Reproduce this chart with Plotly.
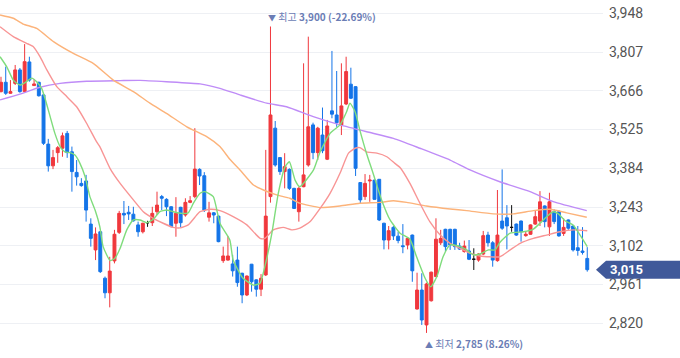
import plotly.graph_objects as go

# ---------------- data ----------------
opens = [3663, 3697, 3657, 3693, 3742, 3663, 3771, 3685, 3697, 3651,
         3472, 3393, 3441, 3457, 3511, 3444, 3369, 3329, 3338, 3181,
         3087, 3153, 2984, 2931, 3047, 3151, 3220, 3224, 3217, 3178,
         3153, 3186, 3186, 3226, 3281, 3271, 3244, 3184, 3242, 3214,
         3260, 3281, 3380, 3357, 3206, 3222, 3210, 3048, 3050, 3036,
         3050, 3002, 2923, 3035, 2978, 2944, 2996, 3281, 3530, 3423,
         3372, 3380, 3311, 3226, 3317, 3396, 3542, 3441, 3505, 3417,
         3593, 3578, 3542, 3618, 3690, 3681, 3332, 3281, 3338, 3341,
         3344, 3184, 3123, 3169, 3137, 3102, 3105, 3141, 2872, 2941,
         2814, 2902, 2990, 3113, 3162, 3162, 3162, 3101, 3081, 3083,
         3053, 3050, 3072, 3141, 3113, 3048, 3192, 3204, 3169, 3181,
         3192, 3139, 3144, 3181, 3192, 3247, 3171, 3226, 3226, 3147,
         3196, 3174, 3095, 3083, 3056]
highs = [3717, 3754, 3705, 3760, 3749, 3836, 3790, 3709, 3699, 3654,
         3491, 3451, 3465, 3514, 3520, 3463, 3414, 3348, 3360, 3202,
         3169, 3155, 2990, 3062, 3160, 3229, 3265, 3247, 3244, 3190,
         3186, 3193, 3244, 3299, 3287, 3275, 3246, 3279, 3244, 3275,
         3283, 3530, 3384, 3370, 3262, 3225, 3212, 3099, 3138, 3069,
         3099, 3004, 2994, 3036, 2980, 2999, 3451, 3900, 3556, 3425,
         3439, 3384, 3313, 3317, 3766, 3863, 3550, 3535, 3605, 3560,
         3811, 3738, 3766, 3790, 3750, 3683, 3333, 3363, 3360, 3343,
         3345, 3186, 3174, 3174, 3153, 3181, 3133, 3143, 3004, 3002,
         2968, 3008, 3202, 3160, 3164, 3164, 3164, 3113, 3121, 3123,
         3093, 3075, 3156, 3153, 3119, 3305, 3380, 3250, 3250, 3183,
         3194, 3156, 3180, 3230, 3301, 3249, 3295, 3235, 3232, 3202,
         3198, 3176, 3174, 3170, 3097]
lows = [3660, 3651, 3655, 3687, 3659, 3659, 3699, 3684, 3645, 3469,
        3372, 3381, 3404, 3426, 3422, 3299, 3321, 3317, 3190, 3099,
        3050, 3003, 2911, 2878, 3038, 3145, 3181, 3196, 3190, 3135,
        3147, 3171, 3174, 3214, 3232, 3210, 3169, 3135, 3169, 3208,
        3257, 3275, 3323, 3225, 3190, 3184, 3115, 3040, 3048, 2990,
        2953, 2893, 2919, 2935, 2917, 2919, 2992, 3259, 3390, 3360,
        3311, 3305, 3236, 3190, 3315, 3390, 3417, 3414, 3439, 3414,
        3566, 3535, 3505, 3614, 3636, 3356, 3257, 3269, 3262, 3270,
        3192, 3089, 3089, 3123, 3111, 3075, 3089, 2971, 2870, 2814,
        2785, 2899, 2988, 3105, 3081, 3087, 3087, 3087, 3077, 3050,
        3014, 3044, 3068, 3099, 3026, 3044, 3160, 3089, 3153, 3138,
        3117, 3135, 3142, 3178, 3174, 3169, 3138, 3181, 3135, 3138,
        3160, 3081, 3066, 3070, 3008]
closes = [3697, 3657, 3663, 3742, 3663, 3772, 3705, 3691, 3648, 3475,
          3393, 3423, 3459, 3502, 3441, 3372, 3353, 3321, 3232, 3129,
          3145, 3008, 2931, 3010, 3144, 3220, 3214, 3218, 3193, 3153,
          3184, 3186, 3220, 3250, 3275, 3244, 3172, 3220, 3186, 3260,
          3266, 3381, 3356, 3232, 3222, 3214, 3117, 3065, 3065, 3011,
          2968, 2923, 2992, 2971, 2944, 2984, 3210, 3578, 3396, 3372,
          3390, 3311, 3238, 3311, 3360, 3535, 3441, 3530, 3448, 3538,
          3581, 3550, 3611, 3736, 3639, 3384, 3269, 3329, 3341, 3271,
          3196, 3123, 3157, 3138, 3121, 3099, 3129, 3011, 2941, 2832,
          2963, 3006, 3126, 3129, 3099, 3105, 3099, 3090, 3101, 3053,
          3053, 3072, 3139, 3113, 3050, 3141, 3166, 3174, 3169, 3141,
          3153, 3144, 3178, 3208, 3262, 3190, 3262, 3190, 3138, 3169,
          3166, 3087, 3085, 3078, 3015]
candle_idx = list(range(len(closes)))
flat_candles = [31, 100, 108]   # unchanged days drawn in black

# moving-average lines: (candle position, price)
ma5_x = [-0.2, 1.2, 2.6, 4.0, 5.1, 6.5, 7.55, 8.6, 9.3, 10.4, 11.4, 12.5, 13.5, 14.6, 15.65,
         16.7, 17.8, 18.8, 19.9, 20.9, 21.6, 23.1, 24.1, 25.2, 26.6, 28.0, 29.4, 30.8, 32.2,
         33.6, 35.0, 36.4, 38.2, 39.6, 40.7, 42.1, 43.1, 44.9, 46.3, 48.4, 49.1, 51.2, 53.4,
         54.8, 55.8, 57.3, 58.65, 60.1, 61.0, 62.2, 63.2, 66.1, 67.5, 69.6, 71.7, 73.1, 73.8,
         74.9, 75.9, 77.3, 78.7, 80.5, 82.3, 84.4, 86.5, 87.9, 89.7, 90.9, 92.2, 93.5, 95.0,
         97.1, 98.5, 99.9, 101.3, 103.1, 104.5, 105.5, 107.7, 110.5, 112.6, 114.0, 115.4,
         116.8, 117.9, 119.3, 121.0, 122.5, 124.0]
ma5_v = [3790, 3754, 3705, 3687, 3696, 3712, 3699, 3675, 3639, 3572, 3511, 3463, 3444, 3441, 3432,
         3402, 3353, 3281, 3232, 3172, 3099, 3048, 3057, 3093, 3160, 3196, 3196, 3186, 3198,
         3226, 3232, 3226, 3220, 3222, 3257, 3293, 3299, 3281, 3184, 3123, 3050, 2984, 2959,
         2966, 3026, 3148, 3293, 3390, 3408, 3341, 3317, 3378, 3444, 3511, 3542, 3590, 3621,
         3590, 3523, 3439, 3366, 3269, 3196, 3148, 3126, 3062, 2984, 2953, 2990, 3062, 3105,
         3099, 3087, 3069, 3072, 3087, 3087, 3114, 3148, 3153, 3163, 3184, 3208,
         3226, 3218, 3193, 3178, 3141, 3099]

ma20_x = [-0.2, 2.6, 5.4, 6.8, 8.25, 9.7, 11.8, 13.9, 16.0, 18.1, 20.2, 20.9, 23.05, 25.2, 28.0,
          30.1, 32.2, 34.3, 36.4, 37.9, 39.6, 41.4, 42.1, 44.2, 46.3, 49.1, 52.0, 54.8, 55.8,
          57.6, 59.7, 61.5, 63.2, 65.4, 67.5, 69.6, 71.7, 73.5, 74.9, 75.9, 77.3, 79.5, 81.6,
          83.3, 84.4, 86.5, 88.6, 90.7, 92.9, 95.0, 97.1, 99.2, 101.3, 103.4, 105.5, 107.7,
          109.8, 112.6, 115.4, 118.2, 121.05, 124.0]
ma20_v = [3899, 3863, 3839, 3827, 3790, 3742, 3681, 3645, 3608, 3548, 3481, 3463, 3384, 3329, 3269,
          3226, 3202, 3184, 3169, 3167, 3178, 3214, 3226, 3235, 3230, 3208, 3178, 3129, 3129,
          3160, 3169, 3160, 3166, 3190, 3238, 3293, 3366, 3439, 3457, 3459, 3444, 3439, 3426,
          3402, 3387, 3329, 3257, 3190, 3141, 3111, 3093, 3075, 3065, 3062, 3062, 3087,
          3111, 3129, 3141, 3153, 3160, 3157]

ma60_x = [-0.2, 2.6, 4.7, 7.55, 11.1, 15.3, 19.5, 23.75, 28.0, 31.5, 35.0, 39.3, 43.5, 46.3, 48.4,
          50.55, 53.4, 55.5, 58.3, 61.1, 63.2, 67.5, 71.7, 75.9, 80.2, 83.0, 85.8, 90.0, 95.0,
          98.5, 104.1, 108.4, 112.6, 116.1, 119.65, 123.9]
ma60_v = [3942, 3930, 3909, 3893, 3845, 3802, 3766, 3705, 3663, 3621, 3584, 3535, 3499, 3463, 3417,
          3378, 3323, 3305, 3287, 3275, 3257, 3241, 3247, 3257, 3260, 3266, 3260, 3247, 3236,
          3230, 3218, 3218, 3230, 3235, 3222, 3206]

ma120_x = [-0.2, 4.0, 8.25, 12.5, 18.1, 25.2, 29.4, 35.0, 42.1, 46.3, 50.55, 56.2, 60.4, 66.05,
           71.7, 77.35, 83.0, 88.6, 95.0, 99.2, 105.5, 111.9, 116.8, 123.9]
ma120_v = [3633, 3654, 3679, 3693, 3701, 3703, 3704, 3699, 3691, 3675, 3651, 3621, 3608, 3572,
           3542, 3517, 3493, 3457, 3414, 3378, 3335, 3299, 3263, 3230]

y_ticks = [2820, 2961, 3102, 3243, 3384, 3525, 3666, 3807, 3948]

# ---------------- styling ----------------
UP = "#f0383d"
DOWN = "#1474e8"
LABEL = "#6b7db5"
TAG = "#40599a"
Y_MIN, Y_MAX = 2693.7, 3996.4
X_MIN, X_MAX = -0.21, 127.33

main_o = [None if i in flat_candles else v for i, v in enumerate(opens)]
main_h = [None if i in flat_candles else v for i, v in enumerate(highs)]
main_l = [None if i in flat_candles else v for i, v in enumerate(lows)]
main_c = [None if i in flat_candles else v for i, v in enumerate(closes)]

fig = go.Figure()

for xs, vs, col in [(ma120_x, ma120_v, "#bf8cf7"), (ma60_x, ma60_v, "#fcb37a"),
                    (ma20_x, ma20_v, "#f89595"), (ma5_x, ma5_v, "#7fdc7c")]:
    fig.add_trace(go.Scatter(x=xs, y=vs, mode="lines", line=dict(color=col, width=1.4, shape="spline", smoothing=0.5),
                             hoverinfo="skip", showlegend=False))

fig.add_trace(go.Candlestick(
    x=candle_idx, open=main_o, high=main_h, low=main_l, close=main_c,
    increasing=dict(line=dict(color=UP, width=1), fillcolor=UP),
    decreasing=dict(line=dict(color=DOWN, width=1), fillcolor=DOWN),
    whiskerwidth=0, showlegend=False))

fig.add_trace(go.Candlestick(
    x=flat_candles, open=[opens[i] for i in flat_candles], high=[highs[i] for i in flat_candles],
    low=[lows[i] for i in flat_candles], close=[closes[i] for i in flat_candles],
    increasing=dict(line=dict(color="#111111", width=1), fillcolor="#111111"),
    decreasing=dict(line=dict(color="#111111", width=1), fillcolor="#111111"),
    whiskerwidth=0, showlegend=False))

# high / low markers
hi_v = max(highs)
hi_i = highs.index(hi_v)
lo_v = min(lows)
lo_i = lows.index(lo_v)
last = closes[-1]
hi_pct = (last - hi_v) / hi_v * 100
lo_pct = (last - lo_v) / lo_v * 100

ann_font = dict(family="Noto Sans CJK KR", size=10, color=LABEL)
fig.add_annotation(x=hi_i, y=hi_v, xref="x", yref="y", xanchor="left", yanchor="bottom",
                   xshift=-4, yshift=0, showarrow=False,
                   text=f"<span style='font-size:8px'>▼</span> 최고 <b>{hi_v:,} ({hi_pct:.2f}%)</b>",
                   font=ann_font)
fig.add_annotation(x=lo_i, y=lo_v, xref="x", yref="y", xanchor="left", yanchor="top",
                   xshift=-4, yshift=-1, showarrow=False,
                   text=f"<span style='font-size:8px'>▲</span> 최저 <b>{lo_v:,} ({lo_pct:.2f}%)</b>",
                   font=ann_font)

# current price tag on the right axis
W = 603.0
H = 358.0
yc = (last - Y_MIN) / (Y_MAX - Y_MIN)
hh = 9.0 / H
tip = 596.0 / W
body = 606.0 / W
right = 1.13
fig.add_shape(type="path", xref="paper", yref="paper",
              path=f"M {tip},{yc} L {body},{yc + hh} L {right},{yc + hh} L {right},{yc - hh} L {body},{yc - hh} Z",
              fillcolor=TAG, line=dict(width=0), layer="above")
fig.add_annotation(x=608.0 / W, y=last, xref="paper", yref="y", xanchor="left", yanchor="middle",
                   showarrow=False, text=f"<b>{last:,}</b>",
                   font=dict(family="Roboto", size=13, color="white"))

fig.update_layout(
    width=680, height=358,
    margin=dict(l=0, r=77, t=0, b=0),
    paper_bgcolor="white", plot_bgcolor="white",
    boxgap=0.12,
    showlegend=False,
    xaxis=dict(range=[X_MIN, X_MAX], visible=False, rangeslider=dict(visible=False), fixedrange=True),
    yaxis=dict(range=[Y_MIN, Y_MAX], side="right", tickvals=y_ticks, tickformat=",d",
               showgrid=True, gridcolor="#eef0f4", gridwidth=1, zeroline=False, showline=False,
               ticks="", ticklabelstandoff=5, fixedrange=True,
               tickfont=dict(family="Liberation Sans Narrow, Roboto", size=14, color="#555555")),
)

fig.write_html("out.html", config={"displayModeBar": False},
               post_script="document.body.style.margin='0';document.body.style.overflow='hidden';")
